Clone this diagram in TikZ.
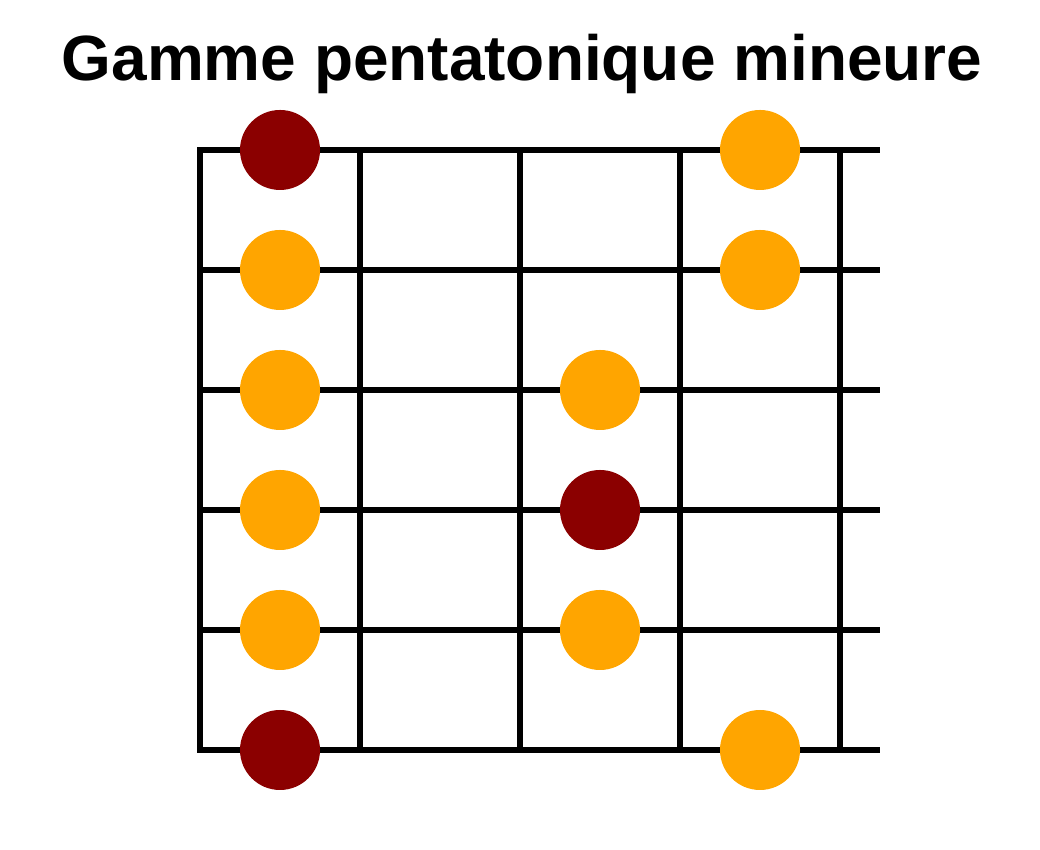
\documentclass[tikz,border=0pt]{standalone}
\usepackage{fontspec}
\setmainfont{Liberation Sans}
\definecolor{rootred}{HTML}{8B0000}
\definecolor{noteorange}{HTML}{FFA500}
\tikzset{
  fretline/.style={line width=1.7pt},
  note/.style={circle,fill=noteorange,minimum size=0.8cm,inner sep=0pt},
  rootnote/.style={note,fill=rootred}
}

\begin{document}
\begin{tikzpicture}
  \useasboundingbox (0,0) rectangle (10.4,8.5);
  \node[anchor=base,font=\bfseries\fontsize{18.2}{22}\selectfont] (title) at (5.22,7.69) {Gamme pentatonique mineure};
  % strings
  \foreach \y in {7.0,5.8,4.6,3.4,2.2,1.0}
    \draw[fretline] (2,\y) -- (8.8,\y);
  % frets
  \foreach \x in {2,3.6,5.2,6.8,8.4}
    \draw[fretline,line cap=rect] (\x,1.0) -- (\x,7.0);
  % notes
  \node[rootnote] (n11) at (2.8,7.0) {};
  \node[note]     (n14) at (7.6,7.0) {};
  \node[note]     (n21) at (2.8,5.8) {};
  \node[note]     (n24) at (7.6,5.8) {};
  \node[note]     (n31) at (2.8,4.6) {};
  \node[note]     (n33) at (6.0,4.6) {};
  \node[note]     (n41) at (2.8,3.4) {};
  \node[rootnote] (n43) at (6.0,3.4) {};
  \node[note]     (n51) at (2.8,2.2) {};
  \node[note]     (n53) at (6.0,2.2) {};
  \node[rootnote] (n61) at (2.8,1.0) {};
  \node[note]     (n64) at (7.6,1.0) {};
\end{tikzpicture}
\end{document}
